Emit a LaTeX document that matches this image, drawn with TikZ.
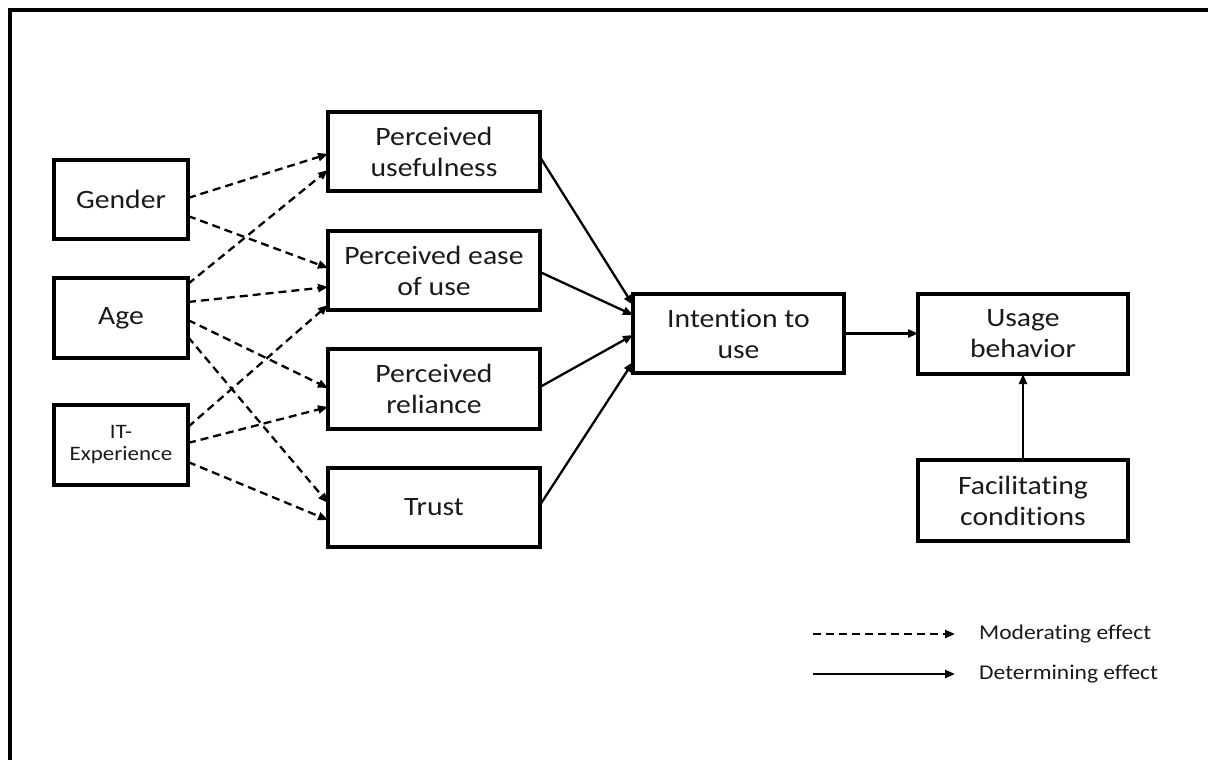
\documentclass[tikz,border=0pt]{standalone}
\usepackage{fontspec}
\setmainfont{Carlito}[FakeStretch=1.12,Ligatures={NoCommon}]
\usetikzlibrary{arrows.meta,calc}
\definecolor{txt}{HTML}{1A1A1A}
\begin{document}
\begin{tikzpicture}[x=1pt,y=-1pt,
  box/.style={draw=black, line width=3.6pt, inner sep=0pt, outer sep=0pt, align=center,
    text=txt, font=\fontsize{26.5}{31}\selectfont},
  mod/.style={line width=2.3pt, dash pattern=on 8pt off 5pt, -{Triangle[length=10pt,width=8pt]}},
  det/.style={line width=2.3pt, -{Triangle[length=10pt,width=8pt]}},
  legtext/.style={anchor=west, text=txt, inner sep=0pt, font=\fontsize{21}{24}\selectfont}]
\useasboundingbox (0,0) rectangle (1208,760);
\draw[line width=4pt] (9.5,762) -- (9.5,10.5) -- (1210,10.5);
% left column
\node[box, minimum width=134pt, minimum height=79pt] (gender) at (121,199.5) {Gender};
\node[box, minimum width=134pt, minimum height=80pt] (age) at (121,318) {Age};
\node[box, minimum width=134pt, minimum height=80pt, font=\fontsize{20.5}{22}\selectfont] (it) at (121,445) {IT-\\Experience};
% middle column
\node[box, minimum width=212pt, minimum height=79pt] (pu) at (434,151.5) {Perceived\\usefulness};
\node[box, minimum width=212pt, minimum height=79pt] (peou) at (434,270.5) {Perceived ease\\of use};
\node[box, minimum width=212pt, minimum height=80pt] (pr) at (434,389) {Perceived\\reliance};
\node[box, minimum width=212pt, minimum height=79pt] (trust) at (434,507.5) {Trust};
% right
\node[box, minimum width=211pt, minimum height=79pt] (intent) at (738.5,333.5) {Intention to\\use};
\node[box, minimum width=210pt, minimum height=80pt] (usage) at (1023,334) {Usage\\behavior};
\node[box, minimum width=210pt, minimum height=81pt] (facil) at (1023,500.5) {Facilitating\\conditions};
% moderating effects
\draw[mod] ($(gender.east)+(0,-1.5)$) -- ($(pu.west)+(0,2.5)$);
\draw[mod] ($(gender.east)+(0,16.5)$) -- ($(peou.west)+(0,-2.5)$);
\draw[mod] ($(age.east)+(0,-34)$) -- ($(pu.west)+(0,18.5)$);
\draw[mod] ($(age.east)+(0,-16)$) -- ($(peou.west)+(0,16.5)$);
\draw[mod] ($(age.east)+(0,2)$) -- ($(pr.west)+(0,-1)$);
\draw[mod] ($(age.east)+(0,19)$) -- ($(trust.west)+(0,-4.5)$);
\draw[mod] ($(it.east)+(0,-18)$) -- ($(peou.west)+(0,34.5)$);
\draw[mod] ($(it.east)+(0,-2)$) -- ($(pr.west)+(0,18)$);
\draw[mod] ($(it.east)+(0,17)$) -- ($(trust.west)+(0,12.5)$);
% determining effects
\draw[det] ($(pu.east)+(0,5.5)$) -- ($(intent.west)+(0,-28.5)$);
\draw[det] ($(peou.east)+(0,1.5)$) -- ($(intent.west)+(0,-18.5)$);
\draw[det] ($(pr.east)+(0,-2)$) -- ($(intent.west)+(0,1.5)$);
\draw[det] ($(trust.east)+(0,-2.5)$) -- ($(intent.west)+(0,28.5)$);
\draw[det] (intent.east) -- (intent.east -| usage.west);
\draw[det] (facil.north) -- (usage.south);
% legend
\coordinate (la1) at (813,634);
\coordinate (la2) at (955,634);
\coordinate (lb1) at (813,674);
\coordinate (lb2) at (955,674);
\draw[mod] (la1) -- (la2);
\draw[det] (lb1) -- (lb2);
\node[legtext] (lta) at (979,634) {Moderating effect};
\node[legtext] (ltb) at (979,674) {Determining effect};
\end{tikzpicture}
\end{document}
